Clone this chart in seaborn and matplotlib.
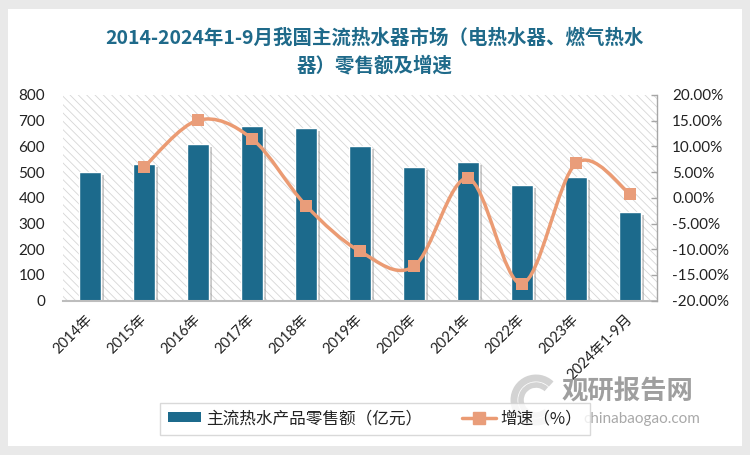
import numpy as np
import pandas as pd
import matplotlib
matplotlib.use("Agg")
import matplotlib.pyplot as plt
import seaborn as sns
from matplotlib.path import Path
from matplotlib.patches import PathPatch, Patch, FancyBboxPatch, Arc
from matplotlib.lines import Line2D
import matplotlib.patheffects as pe

# ---------------- data ----------------
years = ["2014年", "2015年", "2016年", "2017年", "2018年", "2019年",
         "2020年", "2021年", "2022年", "2023年", "2024年1-9月"]
sales = [500, 530, 610, 680, 670, 600, 520, 540, 450, 480, 345]          # 亿元
growth_years = ["2015年", "2016年", "2017年", "2018年", "2019年",
                "2020年", "2021年", "2022年", "2023年", "2024年1-9月"]
growth = [6.0, 15.1, 11.5, -1.5, -10.4, -13.3, 3.8, -16.7, 6.7, 0.8]     # %
left_ticks = [0, 100, 200, 300, 400, 500, 600, 700, 800]
right_ticks = [-20, -15, -10, -5, 0, 5, 10, 15, 20]
title = "2014-2024年1-9月我国主流热水器市场（电热水器、燃气热水\n器）零售额及增速"
bar_label = "主流热水产品零售额（亿元）"
line_label = "增速（%）"

BAR_C = "#1c6a8c"
LINE_C = "#eb9b73"
MARK_C = "#e99d7a"
TITLE_C = "#1f6a8a"

sns.set_theme(style="white")
plt.rcParams["font.family"] = ["Lato", "Noto Sans CJK SC", "DejaVu Sans"]
plt.rcParams["hatch.linewidth"] = 0.6

fig = plt.figure(figsize=(7.5, 4.55), dpi=100)
fig.patch.set_facecolor("#e9e9e9")
panel = FancyBboxPatch((8 / 750, 9 / 455), 734 / 750, 437 / 455,
                       boxstyle="square,pad=0", transform=fig.transFigure,
                       facecolor="white", edgecolor="none", zorder=-10)
fig.patches.append(panel)

ax = fig.add_axes([63 / 750, 1 - 300.7 / 455, 594 / 750, 205.7 / 455])
ax.patch.set_facecolor("white")
ax.patch.set_edgecolor("#d6d6d6")
ax.patch.set_linewidth(0)
ax.patch.set_hatch("\\\\\\\\")

df = pd.DataFrame({"year": years, "sales": sales})
sns.barplot(data=df, x="year", y="sales", ax=ax, color=BAR_C, width=0.4,
            saturation=1, edgecolor="white", linewidth=1.0, zorder=2)
for b in ax.patches:
    b.set_path_effects([pe.SimplePatchShadow(offset=(2.5, -2), shadow_rgbFace="#888888", alpha=0.45),
                        pe.Normal()])

ax.set_xlim(-0.5, len(years) - 0.5)
ax.set_ylim(0, 800)
ax.set_yticks(left_ticks)
ax.set_yticklabels([str(t) for t in left_ticks], fontsize=11, color="#222222")
ax.set_xlabel("")
ax.set_ylabel("")
ax.tick_params(axis="y", length=0, pad=13)
ax.tick_params(axis="x", length=0, pad=12)
for lab in ax.get_xticklabels():
    lab.set_rotation(45)
    lab.set_ha("right")
    lab.set_va("center")
    lab.set_rotation_mode("anchor")
    lab.set_fontsize(10.5)
    lab.set_color("#222222")
for s in ["top", "left", "right"]:
    ax.spines[s].set_visible(False)
ax.spines["bottom"].set_color("#bdbdbd")
ax.spines["bottom"].set_linewidth(1.5)
ax.spines["bottom"].set_zorder(3)

# ---------------- growth line on secondary axis ----------------
ax2 = ax.twinx()
ax2.set_ylim(-20, 20)
pos = {y: i for i, y in enumerate(years)}
gx = np.array([pos[y] for y in growth_years], dtype=float)
gy = np.array(growth, dtype=float)

# smooth (Catmull-Rom -> cubic Bezier) drawing of the line through the data points
P = np.column_stack([gx, gy])
verts = [P[0]]
codes = [Path.MOVETO]
n = len(P)
for i in range(n - 1):
    p0 = P[i - 1] if i > 0 else P[i]
    p1 = P[i]
    p2 = P[i + 1]
    p3 = P[i + 2] if i + 2 < n else P[i + 1]
    c1 = p1 + (p2 - p0) / 6.0
    c2 = p2 - (p3 - p1) / 6.0
    verts += [c1, c2, p2]
    codes += [Path.CURVE4] * 3
ax2.add_patch(PathPatch(Path(verts, codes), facecolor="none", edgecolor=LINE_C,
                        linewidth=2.5, zorder=4, capstyle="round"))
gdf = pd.DataFrame({"x": gx, "g": gy})
sns.scatterplot(data=gdf, x="x", y="g", ax=ax2, marker="s", s=75, color=MARK_C,
                edgecolor=MARK_C, linewidth=0, zorder=5, legend=False)
ax2.set_xlim(-0.5, len(years) - 0.5)
ax2.set_ylabel("")
ax2.set_xlabel("")
ax2.set_yticks(right_ticks)
ax2.set_yticklabels([f"{t:.2f}%" for t in right_ticks], fontsize=11, color="#222222")
ax2.tick_params(axis="y", direction="in", length=4, width=1, color="#a6a6a6", pad=11)
for s in ["top", "left", "bottom"]:
    ax2.spines[s].set_visible(False)
ax2.spines["right"].set_color("#a6a6a6")
ax2.spines["right"].set_linewidth(1.0)

# ---------------- title ----------------
fig.text(0.5, 1 - 52 / 455, title, ha="center", va="center", fontsize=14,
         color=TITLE_C, fontweight="bold", linespacing=1.45,
         family=["Noto Sans CJK SC", "DejaVu Sans"])

# ---------------- legend ----------------
handles = [Patch(facecolor=BAR_C, edgecolor="none"),
           Line2D([0], [0], color=LINE_C, lw=2.5, marker="s", markersize=8,
                  markerfacecolor=MARK_C, markeredgecolor=MARK_C)]
leg = fig.legend(handles, [bar_label, line_label], loc="center",
                 bbox_to_anchor=(375 / 750, 1 - 418.5 / 455), ncol=2,
                 frameon=True, fancybox=False, fontsize=12, handlelength=2.0,
                 handleheight=0.5, columnspacing=2.4, borderpad=0.45,
                 handletextpad=0.3, borderaxespad=0)
leg.get_frame().set_edgecolor("#d0d0d0")
leg.get_frame().set_linewidth(1.0)
for t in leg.get_texts():
    t.set_color("#222222")
    t.set_family(["Noto Sans CJK SC", "DejaVu Sans"])

# ---------------- watermark ----------------
for r, w in [(22, 5), (15, 4)]:
    fig.patches.append(Arc((536 / 750, 1 - 400 / 455), 2 * r / 750, 2 * r / 455,
                           theta1=60, theta2=300, transform=fig.transFigure,
                           color="#c8c8c8", lw=w, alpha=0.8))
fig.text(627 / 750, 1 - 392 / 455, "观研报告网", ha="center", va="center",
         fontsize=19, color="#8e8e8e", fontweight="bold", alpha=0.85,
         family=["Noto Sans CJK SC", "DejaVu Sans"])
fig.text(642 / 750, 1 - 419 / 455, "chinabaogao.com", ha="center", va="center",
         fontsize=11, color="#9a9a9a", alpha=0.85)

fig.savefig("out.png", dpi=100, facecolor=fig.get_facecolor())
